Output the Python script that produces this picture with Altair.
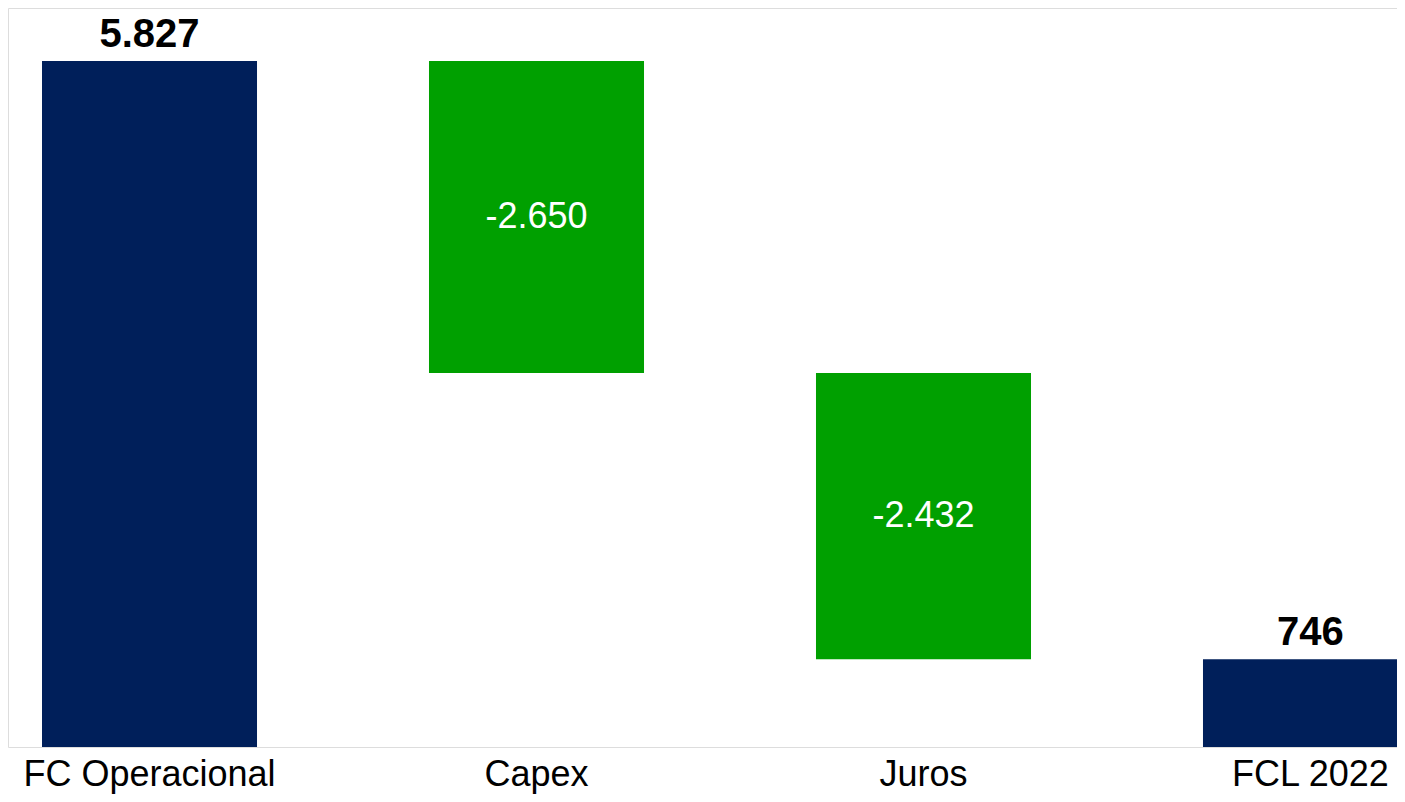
import altair as alt
import pandas as pd

categories = ["FC Operacional", "Capex", "Juros", "FCL 2022"]
values = [5827, -2650, -2432, 746]
kinds = ["total", "delta", "delta", "total"]

rows = []
running = 0
for cat, val, kind in zip(categories, values, kinds):
    if kind == "total":
        start, end = 0, val
        running = val
    else:
        start, end = running, running + val
        running = end
    label = f"{val:,}".replace(",", ".")
    rows.append({
        "cat": cat, "start": start, "end": end,
        "top": max(start, end), "mid": (start + end) / 2,
        "kind": kind, "label": label,
    })
df = pd.DataFrame(rows)

navy = "#001F5A"
green = "#00A000"

xaxis = alt.Axis(labelAngle=0, labelFontSize=36, labelFont="Liberation Sans",
                 labelColor="black", domain=False, ticks=False,
                 labelPadding=10, labelLimit=0, grid=False)
xscale = alt.Scale(range=[34, 1410], paddingInner=0.4444, paddingOuter=0)
x = alt.X("cat:N", sort=categories, title=None, scale=xscale, axis=xaxis)
yscale = alt.Scale(domain=[0, 6277], nice=False, zero=True)

base = alt.Chart(df)

bars = base.mark_bar().encode(
    x=x,
    y=alt.Y("start:Q", scale=yscale, axis=None),
    y2="end:Q",
    color=alt.Color("kind:N", scale=alt.Scale(domain=["total", "delta"], range=[navy, green]),
                    legend=None),
)

total_labels = base.transform_filter(alt.datum.kind == "total").mark_text(
    baseline="alphabetic", dy=-14, fontSize=40, fontWeight="bold",
    font="Liberation Sans", color="black",
).encode(x=x, y=alt.Y("top:Q", scale=yscale, axis=None), text="label:N")

delta_labels = base.transform_filter(alt.datum.kind == "delta").mark_text(
    baseline="middle", fontSize=36, font="Liberation Sans", color="white",
).encode(x=x, y=alt.Y("mid:Q", scale=yscale, axis=None), text="label:N")

chart = alt.layer(bars, total_labels, delta_labels).properties(
    width=1389, height=739,
    autosize=alt.AutoSizeParams(type="none"),
    padding={"left": 0, "top": 0, "right": 0, "bottom": 47},
).configure_view(stroke=None).configure_axis(
    domain=False, grid=False, ticks=False
).configure(background="white")

chart.save("out.html", embed_options={"renderer": "svg", "actions": False})
